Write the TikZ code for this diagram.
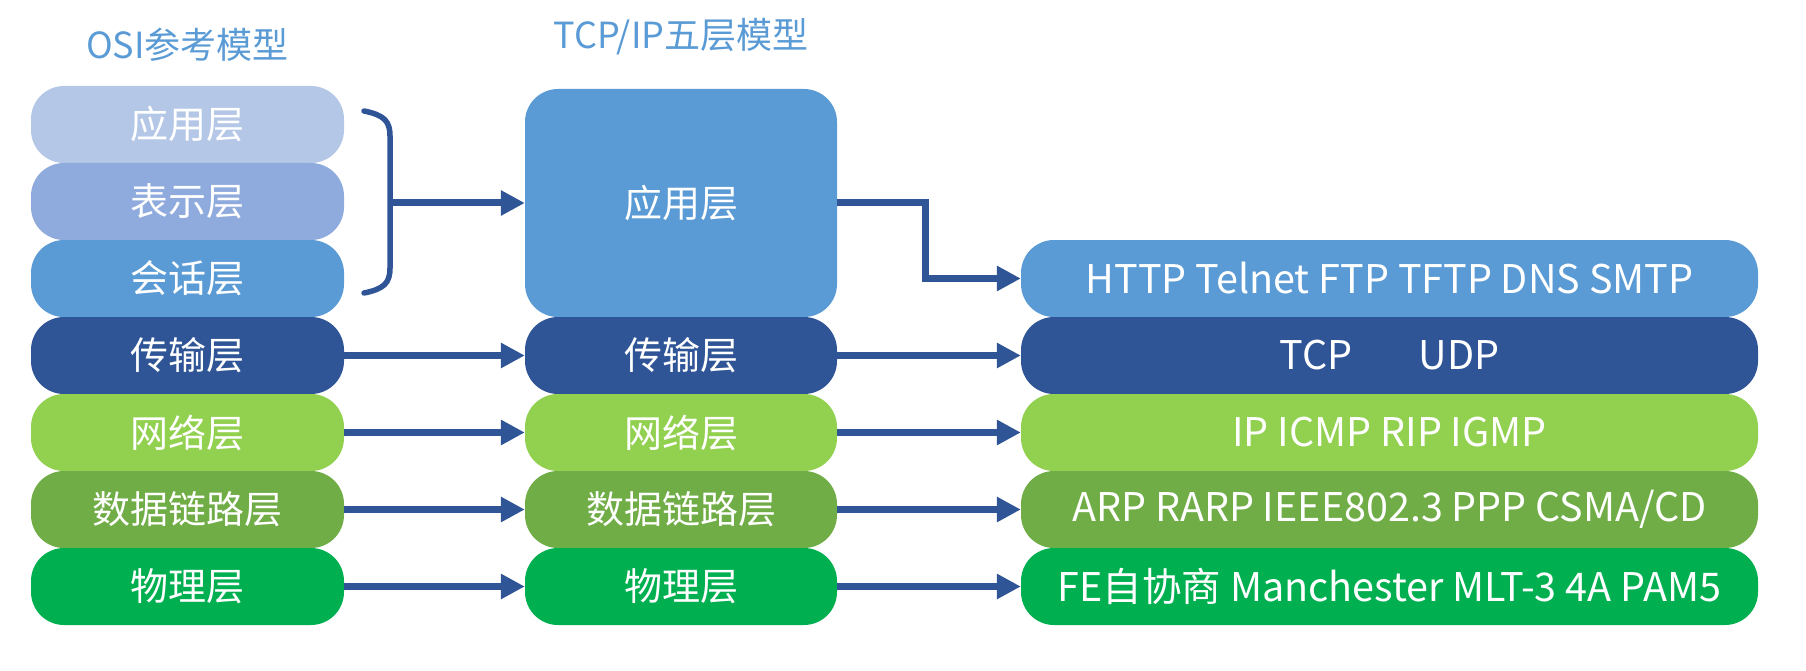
\documentclass[tikz,border=0pt]{standalone}
\usepackage{fontspec}
\setmainfont{Noto Sans CJK SC}
\usetikzlibrary{arrows.meta}
\definecolor{appL}{HTML}{B4C7E7}
\definecolor{preL}{HTML}{8FAADC}
\definecolor{sesL}{HTML}{5B9BD5}
\definecolor{traL}{HTML}{2F5597}
\definecolor{netL}{HTML}{92D050}
\definecolor{dlkL}{HTML}{70AD47}
\definecolor{phyL}{HTML}{00B050}
\definecolor{arrC}{HTML}{2F5597}
\definecolor{titleC}{HTML}{5B9BD5}
\begin{document}
\begin{tikzpicture}[x=1pt,y=-1pt,
  layer/.style={rounded corners=33pt, text=white, inner sep=0pt,
    minimum height=77pt, font=\fontsize{38}{44}\selectfont},
  leftcol/.style={layer, minimum width=313pt},
  midcol/.style={layer, minimum width=312pt},
  rightcol/.style={layer, minimum width=737pt, font=\fontsize{39.5}{44}\selectfont},
  titletext/.style={text=titleC, inner sep=0pt, font=\fontsize{36}{40}\selectfont},
  conn/.style={draw=arrC, line width=7pt, -{Triangle[length=24pt,width=24pt]}},
  bracec/.style={draw=arrC, line width=5.5pt, line cap=round}
]
\useasboundingbox (0,0) rectangle (1806,671);

% titles
\node[titletext] (t1) at (187.5,45) {OSI参考模型};
\node[titletext] (t2) at (681,37) {TCP/IP五层模型};

% OSI column
\node[leftcol, fill=appL] (o1) at (187.5,124.5) {应用层};
\node[leftcol, fill=preL] (o2) at (187.5,201.5) {表示层};
\node[leftcol, fill=sesL] (o3) at (187.5,278.5) {会话层};
\node[leftcol, fill=traL] (o4) at (187.5,355.5) {传输层};
\node[leftcol, fill=netL] (o5) at (187.5,432.5) {网络层};
\node[leftcol, fill=dlkL] (o6) at (187.5,509.5) {数据链路层};
\node[leftcol, fill=phyL] (o7) at (187.5,586.5) {物理层};

% TCP/IP column
\node[midcol, fill=sesL, minimum height=228pt] (m1) at (681,203) {应用层};
\node[midcol, fill=traL] (m4) at (681,355.5) {传输层};
\node[midcol, fill=netL] (m5) at (681,432.5) {网络层};
\node[midcol, fill=dlkL] (m6) at (681,509.5) {数据链路层};
\node[midcol, fill=phyL] (m7) at (681,586.5) {物理层};

% protocol column
\node[rightcol, fill=sesL] (p1) at (1389.5,278.5) {HTTP Telnet FTP TFTP DNS SMTP};
\node[rightcol, fill=traL] (p4) at (1389.5,355.5) {TCP\hspace{66pt}UDP};
\node[rightcol, fill=netL] (p5) at (1389.5,432.5) {IP ICMP RIP IGMP};
\node[rightcol, fill=dlkL] (p6) at (1389.5,509.5) {ARP RARP IEEE802.3 PPP CSMA/CD};
\node[rightcol, fill=phyL] (p7) at (1389.5,586.5) {FE自协商 Manchester MLT-3 4A PAM5};

% brace
\draw[bracec] (364,111) .. controls (384,115) and (390,121) .. (390,136)
  -- (390,268) .. controls (390,283) and (384,289) .. (364,293);
\coordinate (bm) at (390,203);
\coordinate (elb) at (925,203);

% connectors
\draw[conn] (bm) -- (m1.west);
\draw[conn] (m1.east) -- (elb) |- (p1.west);
\draw[conn] (o4) -- (m4);
\draw[conn] (o5.east) -- (m5.west);
\draw[conn] (o6.east) -- (m6.west);
\draw[conn] (o7.east) -- (m7.west);
\draw[conn] (m4.east) -- (p4.west);
\draw[conn] (m5.east) -- (p5.west);
\draw[conn] (m6.east) -- (p6.west);
\draw[conn] (m7.east) -- (p7.west);
\end{tikzpicture}
\end{document}
